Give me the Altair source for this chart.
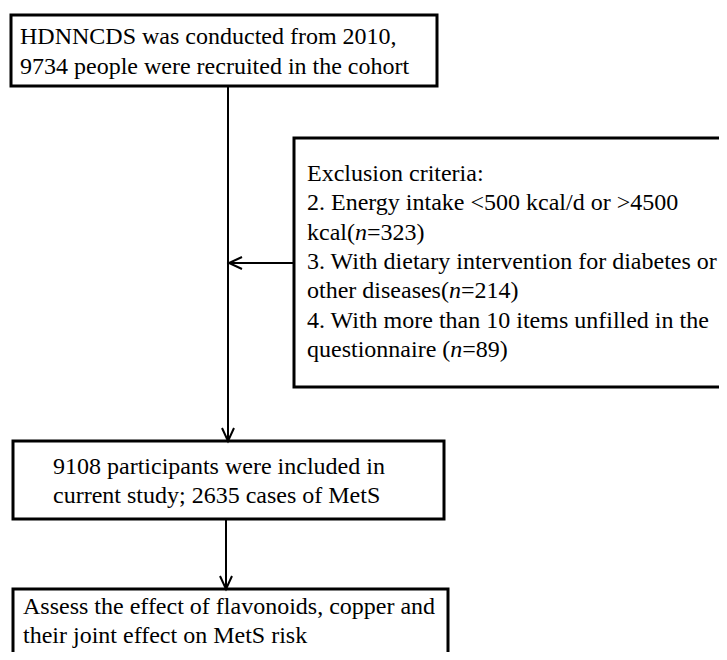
import altair as alt
import pandas as pd

FONT = "Times New Roman, Liberation Serif, Tinos, serif"
FS = 24

# Boxes (page pixel coordinates)
box_x0 = [11, 294, 13, 13]
box_x1 = [437, 760, 444, 448]
box_y0 = [15, 138, 441, 589]
box_y1 = [86, 387, 519, 700]

# Text placement per box
box_text_x = [20, 307, 53, 23]
box_text_y0 = [44, 181, 474, 614]
box_line_gap = [29.5, 29.3, 28.5, 28.5]
box_lines = [
    ["HDNNCDS was conducted from 2010,",
     "9734 people were recruited in the cohort"],
    ["Exclusion criteria:",
     "2. Energy intake <500 kcal/d or >4500",
     "kcal(*n*=323)",
     "3. With dietary intervention for diabetes or",
     "other diseases(*n*=214)",
     "4. With more than 10 items unfilled in the",
     "questionnaire (*n*=89)"],
    ["9108 participants were included in",
     "current study; 2635 cases of MetS"],
    ["Assess the effect of flavonoids, copper and",
     "their joint effect on MetS risk"],
]

# Connector lines
seg_x0 = [228, 294, 226]
seg_x1 = [228, 229, 226]
seg_y0 = [86, 263, 519]
seg_y1 = [441, 263, 589]

# Arrow tips
tip_x = [228, 229, 226]
tip_y = [441, 263, 589]
tip_dir = ["down", "left", "down"]
ARM_L, ARM_W = 13, 6

# Times New Roman advance widths (1/1000 em)
W = {' ': 250, '(': 333, ')': 333, '=': 564, '<': 564, '>': 564, '/': 278,
     '.': 250, ',': 250, ':': 278, ';': 278,
     'a': 444, 'b': 500, 'c': 444, 'd': 500, 'e': 444, 'f': 333, 'g': 500,
     'h': 500, 'i': 278, 'j': 278, 'k': 500, 'l': 278, 'm': 778, 'n': 500,
     'o': 500, 'p': 500, 'q': 500, 'r': 333, 's': 389, 't': 278, 'u': 500,
     'v': 500, 'w': 722, 'x': 500, 'y': 500, 'z': 444,
     'A': 722, 'C': 667, 'D': 722, 'E': 611, 'H': 722, 'M': 889, 'N': 722,
     'S': 556, 'W': 944}
for d in "0123456789":
    W[d] = 500


def tw(s):
    return sum(W.get(c, 500) for c in s) / 1000 * FS


# Build tables
boxes = pd.DataFrame({"x0": box_x0, "x1": box_x1, "y0": box_y0, "y1": box_y1})
segs = pd.DataFrame({"x0": seg_x0, "x1": seg_x1, "y0": seg_y0, "y1": seg_y1})

arrow_rows = []
for i, (tx, ty, dr) in enumerate(zip(tip_x, tip_y, tip_dir)):
    if dr == "down":
        pts = [(tx - ARM_W, ty - ARM_L), (tx, ty), (tx + ARM_W, ty - ARM_L)]
    else:
        pts = [(tx + ARM_L, ty - ARM_W), (tx, ty), (tx + ARM_L, ty + ARM_W)]
    for k, (px, py) in enumerate(pts):
        arrow_rows.append({"id": i, "o": k, "x": px, "y": py})
arrows = pd.DataFrame(arrow_rows)

text_rows = []
for b, lines in enumerate(box_lines):
    for li, line in enumerate(lines):
        y = box_text_y0[b] + li * box_line_gap[b]
        x = box_text_x[b]
        parts = line.split("*")
        for pi, part in enumerate(parts):
            if part:
                text_rows.append({"t": part, "x": x, "y": y,
                                  "style": "italic" if pi % 2 == 1 else "normal"})
            x += tw(part)
texts = pd.DataFrame(text_rows)

# Plot area covers page pixels 8..719 (x) and 8..652 (y)
xs = alt.Scale(domain=[8, 719], nice=False, zero=False)
ys = alt.Scale(domain=[8, 652], nice=False, zero=False, reverse=True)

rects = alt.Chart(boxes).mark_rect(
    fill="white", stroke="black", strokeWidth=3, clip=True
).encode(
    x=alt.X("x0:Q", scale=xs, axis=None), x2="x1:Q",
    y=alt.Y("y0:Q", scale=ys, axis=None), y2="y1:Q",
)

rules = alt.Chart(segs).mark_rule(color="black", strokeWidth=2).encode(
    x=alt.X("x0:Q", scale=xs, axis=None), x2="x1:Q",
    y=alt.Y("y0:Q", scale=ys, axis=None), y2="y1:Q",
)

heads = alt.Chart(arrows).mark_line(color="black", strokeWidth=2).encode(
    x=alt.X("x:Q", scale=xs, axis=None),
    y=alt.Y("y:Q", scale=ys, axis=None),
    detail="id:N", order="o:Q",
)

normal_txt = alt.Chart(texts).transform_filter(
    alt.datum.style == "normal"
).mark_text(
    font=FONT, fontSize=FS, align="left", baseline="alphabetic", color="black"
).encode(
    x=alt.X("x:Q", scale=xs, axis=None),
    y=alt.Y("y:Q", scale=ys, axis=None),
    text="t:N",
)

italic_txt = alt.Chart(texts).transform_filter(
    alt.datum.style == "italic"
).mark_text(
    font=FONT, fontSize=FS, fontStyle="italic", align="left",
    baseline="alphabetic", color="black"
).encode(
    x=alt.X("x:Q", scale=xs, axis=None),
    y=alt.Y("y:Q", scale=ys, axis=None),
    text="t:N",
)

chart = alt.layer(rects, rules, heads, normal_txt, italic_txt).properties(
    width=711, height=644, padding=0,
    autosize=alt.AutoSizeParams(type="none"),
    background="white",
).configure_view(strokeWidth=0)

chart.save("out.html", embed_options={"renderer": "svg", "actions": False})
